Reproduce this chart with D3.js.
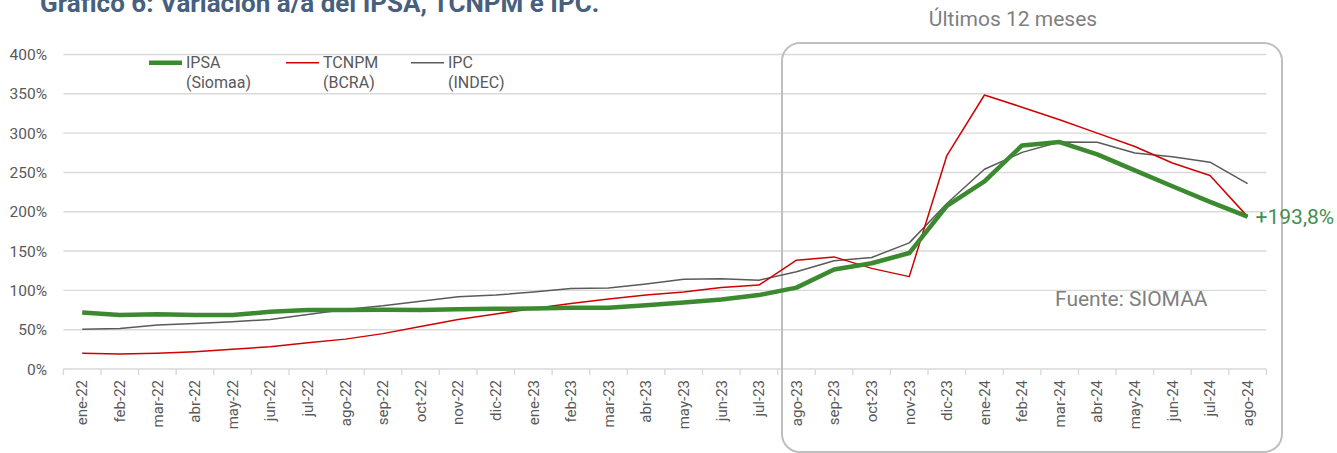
<!DOCTYPE html>
<html>
<head>
<meta charset="utf-8">
<script src="https://cdn.jsdelivr.net/npm/d3@7"></script>
<style>
  body { margin: 0; background: #fff; }
  svg { display: block; font-family: Roboto, "Noto Sans", sans-serif; }
</style>
</head>
<body>
<svg id="chart" width="1337" height="453"></svg>
<script>
// Gráfico 6: variación a/a del IPSA, TCNPM e IPC

const meses = ["ene-22", "feb-22", "mar-22", "abr-22", "may-22", "jun-22", "jul-22", "ago-22",
  "sep-22", "oct-22", "nov-22", "dic-22", "ene-23", "feb-23", "mar-23", "abr-23", "may-23",
  "jun-23", "jul-23", "ago-23", "sep-23", "oct-23", "nov-23", "dic-23", "ene-24", "feb-24",
  "mar-24", "abr-24", "may-24", "jun-24", "jul-24", "ago-24"];

const ipsa = [72, 68.6, 69.5, 68.6, 68.6, 72.8, 75, 75, 75.5, 75, 76, 76.6, 77, 78, 78, 81,
  84.7, 88.5, 94, 103.5, 126.6, 134.5, 147.5, 207.5, 238.7, 284.4, 288.6, 273, 252.7, 232.4,
  212.5, 193.8];

const tcnpm = [20, 19, 20, 22, 25, 28.3, 33.4, 38, 45, 54, 63, 70, 77, 83.4, 89, 94, 98,
  103.7, 106.7, 138.4, 142.6, 128, 117.5, 271.5, 348.5, 333, 317, 300, 283, 262, 246, 193.8];

const ipc = [50.4, 51.6, 55.9, 58, 60, 63, 69.4, 75.8, 80.4, 86.3, 91.8, 94, 98, 102.4, 103,
  108, 114, 114.7, 113, 123.6, 137.6, 141.8, 160.4, 210.5, 254, 275.5, 288.6, 288.3, 274.7,
  270, 263, 235.8];

const yTicks = [0, 50, 100, 150, 200, 250, 300, 350, 400];

const series = [
  { name: "IPSA", sub: "(Siomaa)", values: ipsa, color: "#3b8a2f", width: 4.5, lx: 149 },
  { name: "TCNPM", sub: "(BCRA)", values: tcnpm, color: "#d00000", width: 1.5, lx: 286 },
  { name: "IPC", sub: "(INDEC)", values: ipc, color: "#5a5a5a", width: 1.5, lx: 411 }
];

const svg = d3.select("#chart");
const grey = "#595959";

// escalas
const x = d3.scaleBand().domain(meses).range([63.4, 1266.4]).padding(0);
const cx = d => x(d) + x.bandwidth() / 2;
const y = d3.scaleLinear().domain([0, 400]).range([369, 54.5]);

// grilla horizontal
svg.append("g")
  .selectAll("line")
  .data(yTicks.filter(d => d > 0))
  .enter().append("line")
  .attr("x1", 63.4).attr("x2", 1266.4)
  .attr("y1", d => y(d)).attr("y2", d => y(d))
  .attr("stroke", "#d9d9d9").attr("stroke-width", 1.4);

// eje Y
svg.append("g")
  .selectAll("text")
  .data(yTicks)
  .enter().append("text")
  .attr("x", 47)
  .attr("y", d => y(d))
  .attr("dy", "0.36em")
  .attr("text-anchor", "end")
  .style("font-size", "15.5px")
  .attr("fill", grey)
  .text(d => d + "%");

// eje X
const xAxis = svg.append("g").attr("transform", `translate(0,${y(0)})`);
xAxis.append("line")
  .attr("x1", 63.4).attr("x2", 1266.4)
  .attr("stroke", "#d9d9d9").attr("stroke-width", 1.4);
xAxis.selectAll(".tick")
  .data(meses.concat(["__fin"]))
  .enter().append("line")
  .attr("x1", (d, i) => i < meses.length ? x(d) : x.range()[1])
  .attr("x2", (d, i) => i < meses.length ? x(d) : x.range()[1])
  .attr("y1", 0).attr("y2", 6)
  .attr("stroke", "#d9d9d9").attr("stroke-width", 1.4);
xAxis.selectAll("text")
  .data(meses)
  .enter().append("text")
  .attr("transform", d => `translate(${cx(d)},11) rotate(-90)`)
  .attr("text-anchor", "end")
  .attr("dy", "0.35em")
  .style("font-size", "15px")
  .attr("fill", grey)
  .text(d => d);

// recuadro últimos 12 meses
svg.append("rect")
  .attr("x", 782).attr("y", 43)
  .attr("width", 500).attr("height", 409)
  .attr("rx", 18)
  .attr("fill", "none")
  .attr("stroke", "#bfbfbf")
  .attr("stroke-width", 2);

svg.append("text")
  .attr("x", 1013).attr("y", 26)
  .attr("text-anchor", "middle")
  .style("font-size", "21px")
  .attr("fill", "#7f7f7f")
  .text("Últimos 12 meses");

// líneas
const line = d3.line()
  .x((d, i) => cx(meses[i]))
  .y(d => y(d));

[series[2], series[1], series[0]].forEach(s => {
  svg.append("path")
    .datum(s.values)
    .attr("d", line)
    .attr("fill", "none")
    .attr("stroke", s.color)
    .attr("stroke-width", s.width)
    .attr("stroke-linejoin", "round");
});

// leyenda
series.forEach(s => {
  const g = svg.append("g");
  g.append("line")
    .attr("x1", s.lx).attr("x2", s.lx + 33)
    .attr("y1", 62.7).attr("y2", 62.7)
    .attr("stroke", s.color)
    .attr("stroke-width", s.width);
  const t = g.append("text")
    .attr("x", s.lx + 37).attr("y", 68)
    .style("font-size", "16px")
    .attr("fill", grey);
  t.append("tspan").text(s.name);
  t.append("tspan").attr("x", s.lx + 37).attr("dy", 20).text(s.sub);
});

// etiqueta último valor
const last = meses.length - 1;
svg.append("text")
  .attr("x", cx(meses[last]) + 8)
  .attr("y", y(ipsa[last]) + 7)
  .style("font-size", "21px")
  .attr("fill", "#3f8f4f")
  .text("+193,8%");

// fuente
svg.append("text")
  .attr("x", 1055).attr("y", 306)
  .style("font-size", "21px")
  .attr("fill", "#7f7f7f")
  .text("Fuente: SIOMAA");

// título (cortado en la parte superior)
svg.append("text")
  .attr("x", 40).attr("y", 12)
  .style("font-size", "26px")
  .style("font-weight", "bold")
  .attr("fill", "#46607e")
  .text("Gráfico 6: Variación a/a del IPSA, TCNPM e IPC.");
</script>
</body>
</html>
